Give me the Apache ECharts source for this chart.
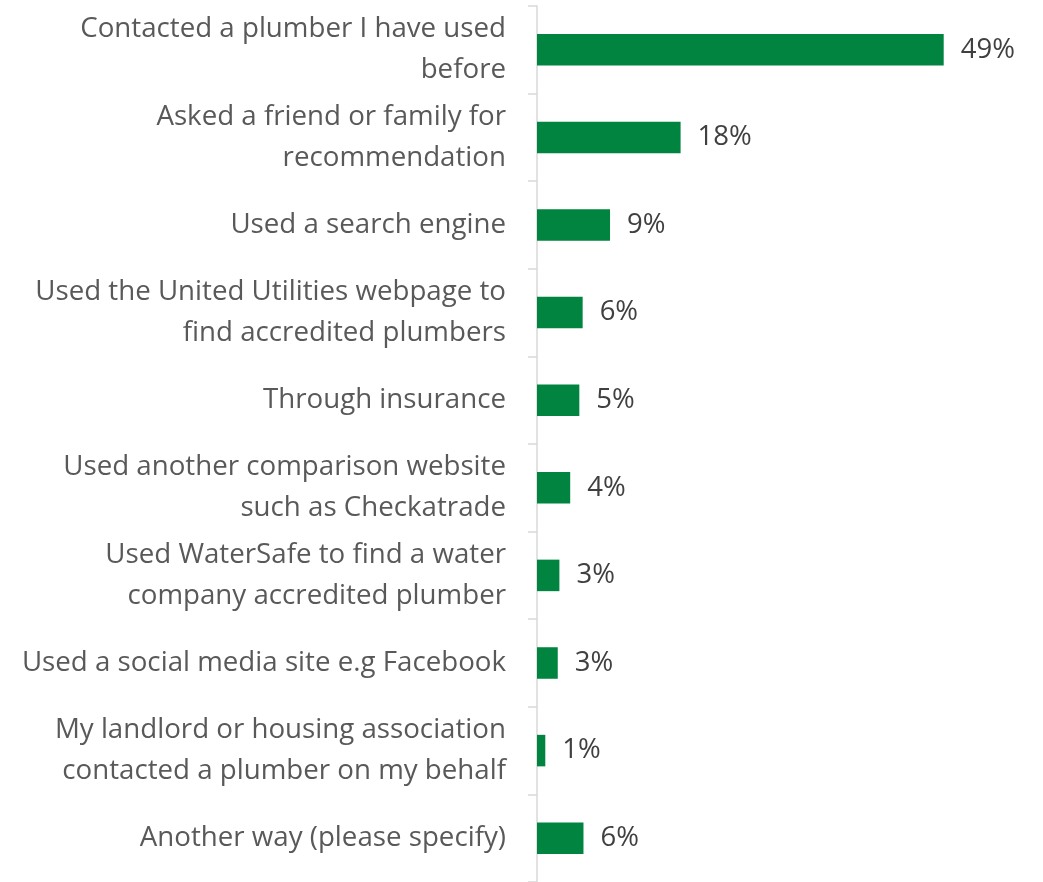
<!DOCTYPE html>
<html>
<head>
<meta charset="utf-8">
<script src="https://cdn.jsdelivr.net/npm/echarts@6/dist/echarts.min.js"></script>
<style>html,body{margin:0;padding:0;background:#fff;}#c{width:1043px;height:882px;}</style>
</head>
<body>
<div id="c"></div>
<script>
var categories = [
  "Contacted a plumber I have used\nbefore",
  "Asked a friend or family for\nrecommendation",
  "Used a search engine",
  "Used the United Utilities webpage to\nfind accredited plumbers",
  "Through insurance",
  "Used another comparison website\nsuch as Checkatrade",
  "Used WaterSafe to find a water\ncompany accredited plumber",
  "Used a social media site e.g Facebook",
  "My landlord or housing association\ncontacted a plumber on my behalf",
  "Another way (please specify)"
];
var values = [49, 17.3, 8.8, 5.5, 5.1, 4.0, 2.7, 2.5, 1.0, 5.6];
var valueLabels = ["49%", "18%", "9%", "6%", "5%", "4%", "3%", "3%", "1%", "6%"];

var chart = echarts.init(document.getElementById('c'), null, {renderer: 'canvas'});
chart.setOption({
  animation: false,
  grid: {left: 537, right: 91, top: 6, bottom: -6, containLabel: false},
  xAxis: {
    type: 'value', min: 0, max: 50, show: false
  },
  yAxis: {
    type: 'category', inverse: true, data: categories,
    axisLine: {show: true, lineStyle: {color: '#D9D9D9', width: 1.5}},
    axisTick: {show: true, length: 9, lineStyle: {color: '#D9D9D9', width: 1.5}},
    axisLabel: {
      margin: 31, color: '#595959', fontFamily: 'Open Sans', fontSize: 27.7,
      lineHeight: 41, align: 'right'
    }
  },
  series: [{
    type: 'bar', data: values, barWidth: '36%',
    itemStyle: {color: '#00843F'},
    label: {
      show: true, position: 'right', distance: 17,
      color: '#404040', fontFamily: 'Open Sans', fontSize: 27.5,
      formatter: function (p) { return valueLabels[p.dataIndex]; }
    }
  }]
});
</script>
</body>
</html>
